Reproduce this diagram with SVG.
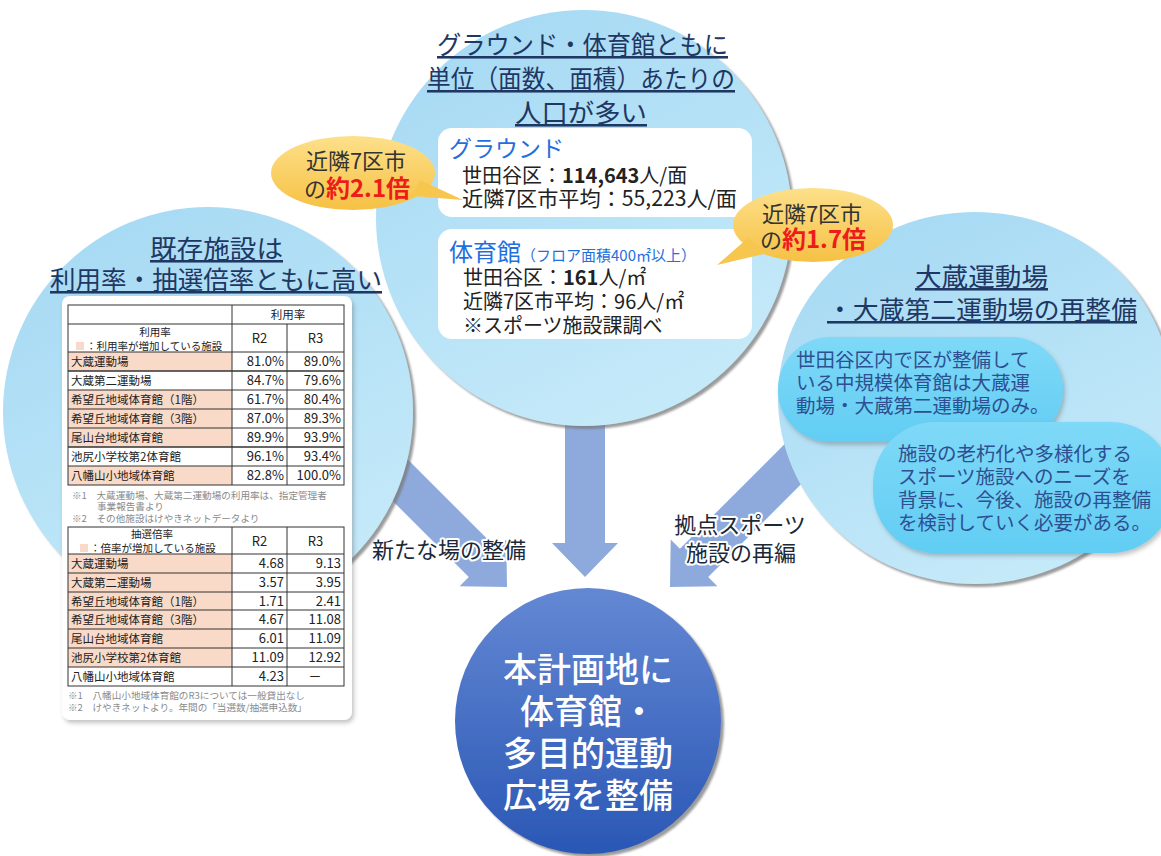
<svg xmlns="http://www.w3.org/2000/svg" width="1161" height="856" viewBox="0 0 1161 856">
<defs>
<style>
text{font-family:"Noto Sans CJK JP","Noto Sans",sans-serif}
.ttl{font-size:25.5px;fill:#1f3763;text-decoration:underline;text-anchor:middle}
.tb{font-size:11.5px;fill:#222}
.hd{font-size:10.5px;fill:#222}
.num{font-size:13px;fill:#222;text-anchor:end}
.ctr{text-anchor:middle}
.note{font-size:9.6px;fill:#8a8a8a}
.grid line{stroke:#333;stroke-width:1}
.pink{fill:#f9dac8}
.arrow{fill:#8eaadc}
.lbl{font-size:22px;fill:#1b2838;stroke:#fff;stroke-width:4px;stroke-linejoin:round;paint-order:stroke}
.blue{fill:#1f6fe0}
.body{font-size:20px;fill:#222}
.call{font-size:22px;fill:#333;text-anchor:middle}
.red{fill:#ee1b1b;font-weight:700}
.pill{font-size:19.5px;fill:#2e4f91}
.main{font-size:34px;fill:#fff;font-weight:500;text-anchor:middle}
</style>
<linearGradient id="gSat" x1="0" y1="0" x2="0.5" y2="1"><stop offset="0" stop-color="#a3d8f3"/><stop offset="1" stop-color="#c4e9f9"/></linearGradient>
<linearGradient id="gMain" x1="0" y1="0" x2="0" y2="1"><stop offset="0" stop-color="#6488d3"/><stop offset="1" stop-color="#2a57b5"/></linearGradient>
<linearGradient id="gCall" x1="0" y1="0" x2="0" y2="1"><stop offset="0" stop-color="#fde08a"/><stop offset="1" stop-color="#f6c144"/></linearGradient>
<linearGradient id="gPill" x1="0" y1="0" x2="0" y2="1"><stop offset="0" stop-color="#7fd9f8"/><stop offset="1" stop-color="#62cdf3"/></linearGradient>
<filter id="sh" x="-10%" y="-10%" width="125%" height="125%"><feDropShadow dx="3" dy="3" stdDeviation="1.2" flood-color="#7a7a7a" flood-opacity="0.75"/></filter>
<filter id="shs" x="-10%" y="-10%" width="125%" height="125%"><feDropShadow dx="2" dy="3" stdDeviation="2" flood-color="#555" flood-opacity="0.35"/></filter>
<path id="arrLong" d="M-190,-20 L-34,-20 L-34,-33 L0,0 L-34,33 L-34,20 L-190,20 Z"/>
</defs>

<rect x="0" y="0" width="1161" height="856" fill="#fff"/>

<g id="connectors">
  <path class="arrow" d="M565,417 L605,417 L605,543 L618,543 L585,577 L552,543 L565,543 Z"/>
  <use href="#arrLong" class="arrow" transform="translate(507,587) rotate(45)"/>
  <use href="#arrLong" class="arrow" transform="translate(670,587) rotate(135)"/>
  <text class="lbl" x="372" y="558">新たな場の整備</text>
  <text class="lbl ctr" x="740" y="533">拠点スポーツ</text>
  <text class="lbl ctr" x="741" y="561">施設の再編</text>
</g>

<g id="n-left">
  <circle cx="208" cy="412" r="205" fill="url(#gSat)" filter="url(#sh)"/>
  <text class="ttl" x="216.5" y="258" textLength="133" lengthAdjust="spacingAndGlyphs">既存施設は</text>
  <text class="ttl" x="216" y="289" textLength="332" lengthAdjust="spacingAndGlyphs">利用率・抽選倍率ともに高い</text>
  <rect x="62" y="296" width="290" height="424" rx="8" fill="#fff" filter="url(#shs)"/>
  <g id="table1">
    <rect class="pink" x="68" y="352" width="164" height="19"/>
    <rect class="pink" x="68" y="390" width="164" height="57"/>
    <rect class="pink" x="68" y="466" width="164" height="19"/>
    <rect class="pink" x="76" y="342" width="8" height="8"/>
    <g class="grid">
      <rect x="68" y="305" width="276" height="180" fill="none" stroke="#333" stroke-width="1"/>
      <line x1="232" y1="305" x2="232" y2="485"/>
      <line x1="287" y1="324" x2="287" y2="485"/>
      <line x1="68" y1="324" x2="344" y2="324"/>
      <line x1="68" y1="352" x2="344" y2="352"/>
      <line x1="68" y1="371" x2="344" y2="371" style="stroke-width:1.6"/>
      <line x1="68" y1="390" x2="344" y2="390"/>
      <line x1="68" y1="409" x2="344" y2="409"/>
      <line x1="68" y1="428" x2="344" y2="428"/>
      <line x1="68" y1="447" x2="344" y2="447" style="stroke-width:1.6"/>
      <line x1="68" y1="466" x2="344" y2="466"/>
    </g>
    <text class="hd ctr" x="288" y="319" style="font-size:11.5px">利用率</text>
    <text class="hd ctr" x="155" y="336">利用率</text>
    <text class="hd" x="86" y="350">：利用率が増加している施設</text>
    <text class="num ctr" x="259.5" y="343">R2</text>
    <text class="num ctr" x="315.5" y="343">R3</text>
    <text class="tb" x="71" y="366">大蔵運動場</text><text class="num" x="284" y="366">81.0%</text><text class="num" x="341" y="366">89.0%</text>
    <text class="tb" x="71" y="385">大蔵第二運動場</text><text class="num" x="284" y="385">84.7%</text><text class="num" x="341" y="385">79.6%</text>
    <text class="tb" x="71" y="404">希望丘地域体育館（1階）</text><text class="num" x="284" y="404">61.7%</text><text class="num" x="341" y="404">80.4%</text>
    <text class="tb" x="71" y="423">希望丘地域体育館（3階）</text><text class="num" x="284" y="423">87.0%</text><text class="num" x="341" y="423">89.3%</text>
    <text class="tb" x="71" y="442">尾山台地域体育館</text><text class="num" x="284" y="442">89.9%</text><text class="num" x="341" y="442">93.9%</text>
    <text class="tb" x="71" y="461">池尻小学校第2体育館</text><text class="num" x="284" y="461">96.1%</text><text class="num" x="341" y="461">93.4%</text>
    <text class="tb" x="71" y="480">八幡山小地域体育館</text><text class="num" x="284" y="480">82.8%</text><text class="num" x="341" y="480">100.0%</text>
    <text class="note" x="72" y="499">※1　大蔵運動場、大蔵第二運動場の利用率は、指定管理者</text>
    <text class="note" x="97" y="510">事業報告書より</text>
    <text class="note" x="72" y="522">※2　その他施設はけやきネットデータより</text>
  </g>
  <g id="table2">
    <rect class="pink" x="68" y="554" width="164" height="113"/>
    <rect class="pink" x="80" y="544" width="8" height="8"/>
    <g class="grid">
      <rect x="68" y="527" width="276" height="159" fill="none" stroke="#333" stroke-width="1"/>
      <line x1="232" y1="527" x2="232" y2="686"/>
      <line x1="287" y1="527" x2="287" y2="686"/>
      <line x1="68" y1="554" x2="344" y2="554"/>
      <line x1="68" y1="573" x2="344" y2="573"/>
      <line x1="68" y1="592" x2="344" y2="592"/>
      <line x1="68" y1="610" x2="344" y2="610"/>
      <line x1="68" y1="629" x2="344" y2="629"/>
      <line x1="68" y1="648" x2="344" y2="648"/>
      <line x1="68" y1="667" x2="344" y2="667"/>
    </g>
    <text class="hd ctr" x="152" y="538">抽選倍率</text>
    <text class="hd" x="90" y="552">：倍率が増加している施設</text>
    <text class="num ctr" x="259.5" y="546">R2</text>
    <text class="num ctr" x="315.5" y="546">R3</text>
    <text class="tb" x="71" y="568">大蔵運動場</text><text class="num" x="284" y="568">4.68</text><text class="num" x="341" y="568">9.13</text>
    <text class="tb" x="71" y="587">大蔵第二運動場</text><text class="num" x="284" y="587">3.57</text><text class="num" x="341" y="587">3.95</text>
    <text class="tb" x="71" y="606">希望丘地域体育館（1階）</text><text class="num" x="284" y="606">1.71</text><text class="num" x="341" y="606">2.41</text>
    <text class="tb" x="71" y="624">希望丘地域体育館（3階）</text><text class="num" x="284" y="624">4.67</text><text class="num" x="341" y="624">11.08</text>
    <text class="tb" x="71" y="643">尾山台地域体育館</text><text class="num" x="284" y="643">6.01</text><text class="num" x="341" y="643">11.09</text>
    <text class="tb" x="71" y="662">池尻小学校第2体育館</text><text class="num" x="284" y="662">11.09</text><text class="num" x="341" y="662">12.92</text>
    <text class="tb" x="71" y="681">八幡山小地域体育館</text><text class="num" x="284" y="681">4.23</text><text class="num ctr" x="315" y="681">－</text>
    <text class="note" x="68" y="699">※1　八幡山小地域体育館のR3については一般貸出なし</text>
    <text class="note" x="68" y="711">※2　けやきネットより。年間の「当選数/抽選申込数」</text>
  </g>
</g>

<g id="n-top">
  <circle cx="584" cy="218" r="208" fill="url(#gSat)" filter="url(#sh)"/>
  <text class="ttl" x="582.5" y="54" textLength="291" lengthAdjust="spacingAndGlyphs">グラウンド・体育館ともに</text>
  <text class="ttl" x="581" y="88" textLength="308" lengthAdjust="spacingAndGlyphs">単位（面数、面積）あたりの</text>
  <text class="ttl" x="581" y="122" textLength="132" lengthAdjust="spacingAndGlyphs">人口が多い</text>
  <rect x="438" y="128" width="314" height="89" rx="14" fill="#fff"/>
  <text class="blue" x="449" y="157" style="font-size:23px">グラウンド</text>
  <text class="body" x="462" y="183">世田谷区：<tspan font-weight="700">114,643</tspan>人/面</text>
  <text class="body" x="462" y="206" style="font-size:21px" textLength="275" lengthAdjust="spacingAndGlyphs">近隣7区市平均：55,223人/面</text>
  <rect x="438" y="229" width="314" height="110" rx="14" fill="#fff"/>
  <text class="blue" x="449" y="261" style="font-size:24px">体育館<tspan style="font-size:15px">（フロア面積400㎡以上）</tspan></text>
  <text class="body" x="463" y="285">世田谷区：<tspan font-weight="700">161</tspan>人/㎡</text>
  <text class="body" x="463" y="309">近隣7区市平均：96人/㎡</text>
  <text class="body" x="463" y="333">※スポーツ施設課調べ</text>
</g>

<g id="n-right">
  <ellipse cx="975" cy="398" rx="197" ry="186" fill="url(#gSat)" filter="url(#sh)"/>
  <text class="ttl" x="981.5" y="286" textLength="133" lengthAdjust="spacingAndGlyphs">大蔵運動場</text>
  <text class="ttl" x="982" y="319" textLength="310" lengthAdjust="spacingAndGlyphs">・大蔵第二運動場の再整備</text>
  <rect x="778" y="337" width="285" height="105" rx="52" fill="url(#gPill)" filter="url(#shs)"/>
  <text class="pill" x="796" y="367">世田谷区内で区が整備して</text>
  <text class="pill" x="796" y="390">いる中規模体育館は大蔵運</text>
  <text class="pill" x="796" y="413">動場・大蔵第二運動場のみ。</text>
  <rect x="873" y="422" width="300" height="131" rx="62" fill="url(#gPill)" filter="url(#shs)"/>
  <text class="pill" x="898" y="461">施設の老朽化や多様化する</text>
  <text class="pill" x="898" y="484">スポーツ施設へのニーズを</text>
  <text class="pill" x="898" y="507">背景に、今後、施設の再整備</text>
  <text class="pill" x="898" y="530">を検討していく必要がある。</text>
</g>

<g id="n-call1">
  <ellipse cx="353" cy="173" rx="82" ry="37" fill="url(#gCall)"/>
  <path d="M420,180 L463,200 L412,196 Z" fill="#f7c64e"/>
  <text class="call" x="356" y="169">近隣7区市</text>
  <text class="call" x="357" y="197">の<tspan class="red" style="font-size:24px">約2.1倍</tspan></text>
</g>

<g id="n-call2">
  <ellipse cx="813" cy="225" rx="80" ry="37" fill="url(#gCall)"/>
  <path d="M748,238 L717,265 L768,253 Z" fill="#f7c64e"/>
  <text class="call" x="812" y="222">近隣7区市</text>
  <text class="call" x="813" y="248">の<tspan class="red" style="font-size:24px">約1.7倍</tspan></text>
</g>

<g id="n-main">
  <circle cx="588" cy="721" r="133" fill="url(#gMain)" filter="url(#sh)"/>
  <text class="main" x="588" y="682">本計画地に</text>
  <text class="main" x="588" y="724">体育館・</text>
  <text class="main" x="588" y="766">多目的運動</text>
  <text class="main" x="588" y="808">広場を整備</text>
</g>
</svg>
